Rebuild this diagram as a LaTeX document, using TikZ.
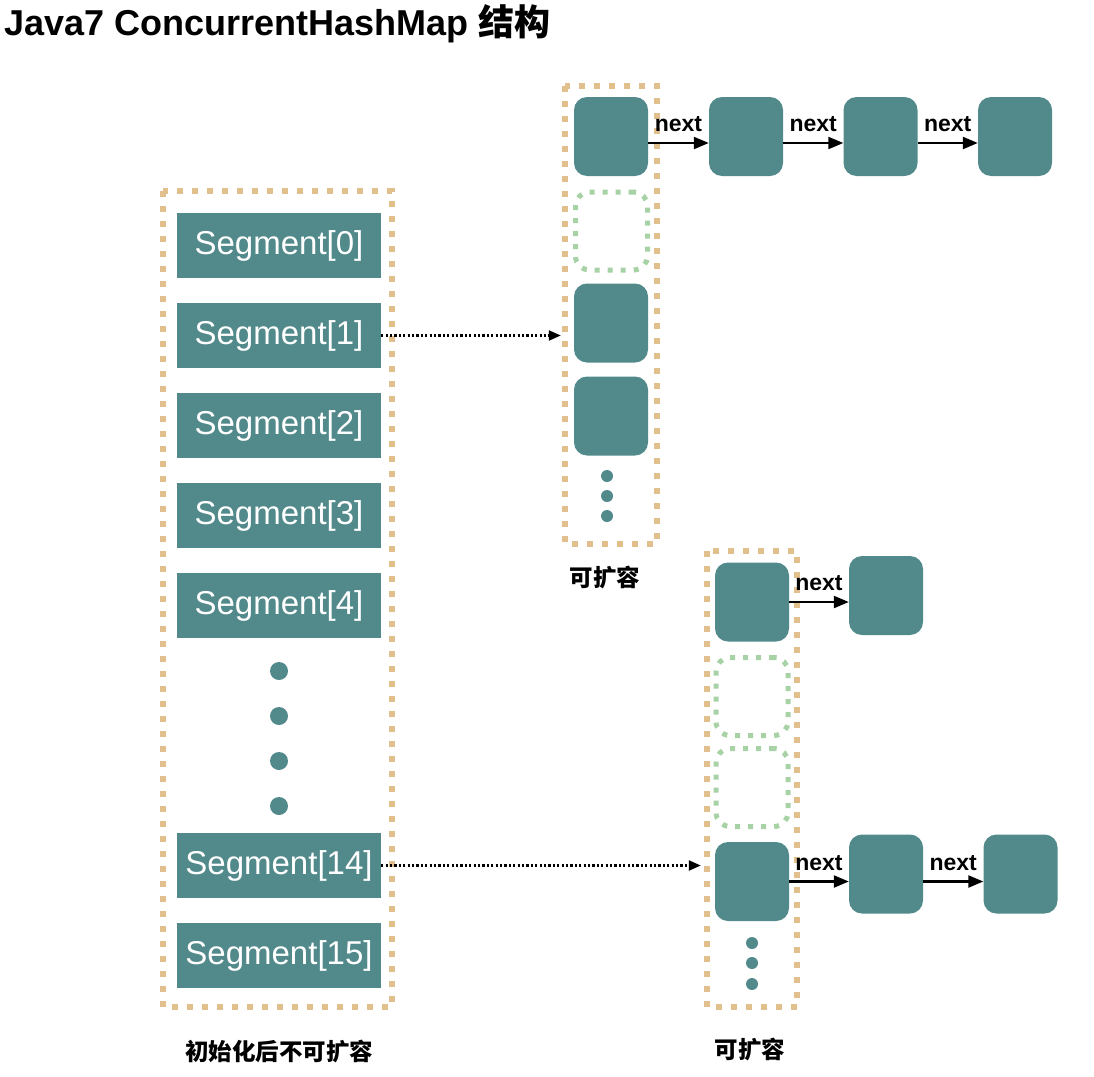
\documentclass[tikz,border=0pt]{standalone}
\usepackage{fontspec}
\setmainfont{Liberation Sans}
\newfontfamily\cjk{Noto Sans CJK SC}
\usetikzlibrary{arrows.meta}
\definecolor{segc}{HTML}{528A8C}
\definecolor{sand}{HTML}{E2C08D}
\definecolor{mint}{HTML}{A6D2A6}
\tikzset{seg/.style={fill=segc,text=white,minimum width=204pt,minimum height=65pt,inner sep=0pt,font=\fontsize{33}{36}\selectfont},
  cell/.style={fill=segc,rounded corners=13pt,minimum width=74pt,minimum height=79pt,inner sep=0pt},
  hole/.style={draw=mint,line width=5pt,dash pattern=on 5pt off 8pt,rounded corners=14pt,minimum width=72pt,minimum height=78pt,inner sep=0pt},
  frame/.style={draw=sand,line width=6pt,dash pattern=on 6pt off 9pt},
  dot/.style={circle,fill=segc,inner sep=0pt,minimum size=#1},dot/.default=12pt,
  link/.style={line width=2.2pt,-{Triangle[length=15pt,width=12pt]}},
  ptr/.style={line width=2.2pt,dash pattern=on 2.2pt off 2.2pt,-{Triangle[length=12pt,width=10pt]}},
  lbl/.style={font=\bfseries\fontsize{23}{26}\selectfont,inner sep=1pt},
  note/.style={font=\cjk\bfseries\fontsize{23.5}{26}\selectfont}}

\begin{document}
\begin{tikzpicture}[x=1pt,y=-1pt]
\useasboundingbox (0,0) rectangle (1094,1076);
\node[anchor=base west,inner sep=0pt,font=\bfseries\fontsize{36}{40}\selectfont] (title) at (4,35) {Java7 ConcurrentHashMap {\cjk 结构}};
% segment array
\draw[frame] (163,191) rectangle (392,1007);
\foreach \i in {0,...,4}{\node[seg] (seg\i) at (279,245.5+90*\i) {Segment[\i]};}
\node[seg] (seg14) at (279,865.5) {Segment[14]};
\node[seg] (seg15) at (279,955.5) {Segment[15]};
\foreach \y [count=\k] in {671,716,761,806}{\node[dot=18pt] (sd\k) at (279,\y) {};}
\node[note] (fixed) at (279,1052) {初始化后不可扩容};
% table of segment 1
\draw[frame] (565,86) rectangle (657,544);
\node[cell] (b1) at (611,136.5) {};
\node[hole] (b2) at (611.5,231) {};
\node[cell] (b3) at (611,323) {};
\node[cell] (b4) at (611,416) {};
\foreach \y [count=\k] in {476,496,516}{\node[dot] (bd\k) at (607,\y) {};}
\node[note] (growA) at (605,578) {可扩容};
\node[cell] (t1) at (746,136.5) {};
\node[cell] (t2) at (880.5,136.5) {};
\node[cell] (t3) at (1015,136.5) {};
\foreach \a/\b in {b1/t1,t1/t2,t2/t3}{
 \draw[link] ([yshift=-6.5pt]\a.east) -- ([yshift=-6.5pt]\b.west) node[lbl,midway,above=9pt] {next};}
% table of segment 14
\draw[frame] (707,551) rectangle (797,1007);
\node[cell] (c1) at (752,602) {};
\node[hole] (c2) at (752,696.5) {};
\node[hole] (c3) at (752,787.5) {};
\node[cell] (c4) at (752,881.5) {};
\foreach \y [count=\k] in {943,963,984}{\node[dot] (cd\k) at (752,\y) {};}
\node[note] (growB) at (750,1050) {可扩容};
\node[cell] (u1) at (886,595.5) {};
\node[cell] (v1) at (886,874) {};
\node[cell] (v2) at (1020.5,874) {};
\draw[link] (c1.east) -- (c1.east -| u1.west) node[lbl,midway,above=9pt] {next};
\draw[link] (c4.east) -- (c4.east -| v1.west) node[lbl,midway,above=9pt] {next};
\draw[link] (c4.east -| v1.east) -- (c4.east -| v2.west) node[lbl,midway,above=9pt] {next};
% pointers
\draw[ptr,shorten >=13pt] (seg1.east) -- (seg1.east -| b3.west);
\draw[ptr,shorten >=14pt] (seg14.east) -- (seg14.east -| c4.west);
\end{tikzpicture}
\end{document}
